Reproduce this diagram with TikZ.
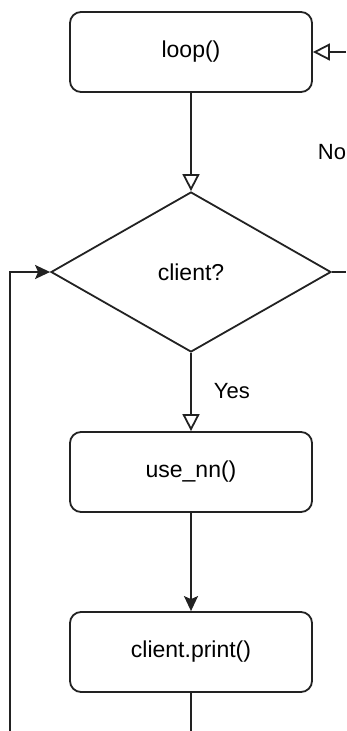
\documentclass[tikz,border=0pt]{standalone}
\usepackage{fontspec}
\setmainfont{Liberation Sans}
\usetikzlibrary{arrows.meta,shapes.geometric}
\definecolor{ln}{HTML}{222222}
\begin{document}
\begin{tikzpicture}[x=1pt,y=-1pt, line width=1.8pt, color=ln,
  box/.style={draw=ln, rounded corners=11pt, minimum width=242pt, minimum height=80pt, inner sep=0pt, text=black, font=\fontsize{23}{27}\selectfont},
  dec/.style={draw=ln, diamond, minimum width=280pt, minimum height=160pt, inner sep=0pt, text=black, font=\fontsize{23}{27}\selectfont},
  lbl/.style={font=\fontsize{22}{26}\selectfont, inner sep=0pt, text=black},
  openarr/.style={-{Triangle[open, length=17pt, width=17pt]}},
  fillarr/.style={-{Stealth[length=15pt, width=14pt, inset=3pt]}}
]
\path[use as bounding box] (0,0) rectangle (346,731);
\node[box] (loop) at (191,52) {loop()};
\node[dec] (dec) at (191,272) {client?};
\node[box] (nn) at (191,472) {use\_nn()};
\node[box] (pr) at (191,652) {client.print()};
\coordinate (rt) at (346,52);
\coordinate (re) at (346,272);
\coordinate (bot) at (191,731);
\coordinate (lb) at (10,731);
\node[lbl] (no) at (332,152) {No};
\draw[openarr] (loop) -- (dec);
\draw[openarr] (dec) -- (nn);
\node[lbl, anchor=west] (yes) at (213,391) {Yes};
\draw[fillarr] (nn) -- (pr);
\draw (pr) -- (bot);
\draw[fillarr] (lb) |- (dec.west);
\draw (dec.east) -- (re);
\draw[openarr] (rt) -- (loop.east);
\end{tikzpicture}
\end{document}
